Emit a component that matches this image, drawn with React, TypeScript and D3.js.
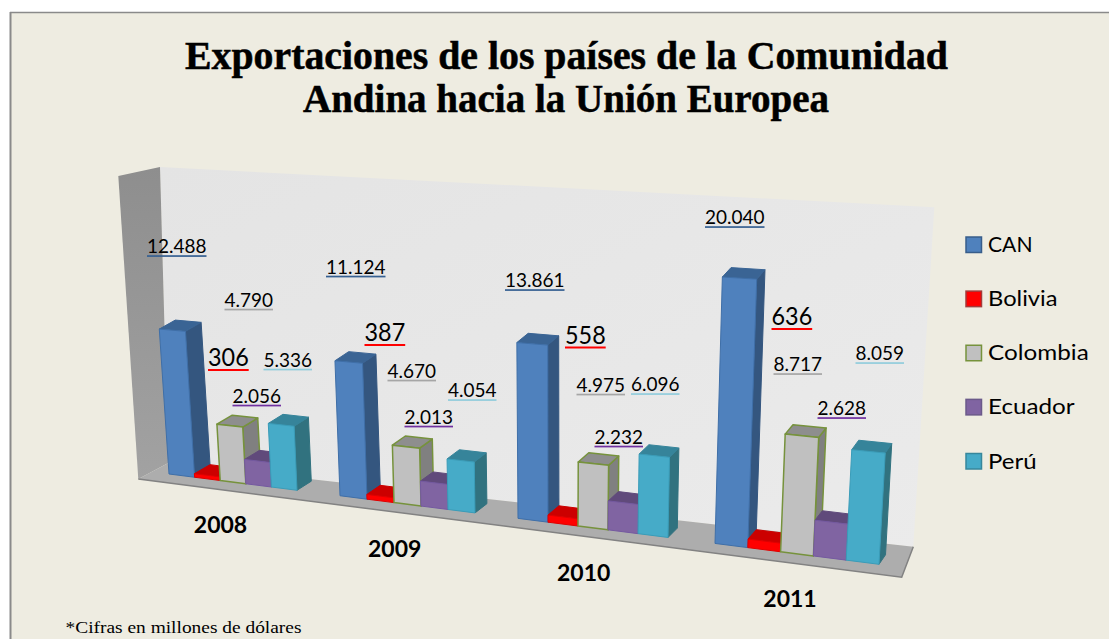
import React from "react";
import * as d3 from "d3";

const years = ["2008", "2009", "2010", "2011"];
const seriesNames = ["CAN", "Bolivia", "Colombia", "Ecuador", "Perú"];
const can = [12488, 11124, 13861, 20040];
const bolivia = [306, 387, 558, 636];
const colombia = [4790, 4670, 4975, 8717];
const ecuador = [2056, 2013, 2232, 2628];
const peru = [5336, 4054, 6096, 8059];
const seriesValues = [can, bolivia, colombia, ecuador, peru];

const titleLines = ["Exportaciones de los países de la Comunidad", "Andina hacia la Unión Europea"];
const footnote = "*Cifras en millones de dólares";

// presentation only
const faces = [
  { front: "#4f81bd", side: "#34567f", top: "#3a6494", stroke: "#3f6fa8", under: "#366092", legendStroke: "#385d8a" },
  { front: "#ff0000", side: "#b00000", top: "#cc0000", stroke: "#e00000", under: "#ff0000", legendStroke: "#a33a3a" },
  { front: "#c0c0c0", side: "#808080", top: "#8e8e8e", stroke: "#76923c", under: "#a6a6a6", legendStroke: "#76923c" },
  { front: "#8064a2", side: "#5f4a7a", top: "#604a7b", stroke: "#7459a0", under: "#7030a0", legendStroke: "#6b5a8a" },
  { front: "#46abc8", side: "#31727f", top: "#36849a", stroke: "#3a9cb8", under: "#92cddc", legendStroke: "#37879c" },
];
// left edge and baseline of every value label, by series then year
const labelX = [
  [147, 326, 505, 705],
  [208, 364.5, 565, 771.5],
  [224.5, 387.5, 576.5, 773.5],
  [232.5, 404.5, 594.5, 817.5],
  [263.5, 448, 631, 855.5],
];
const labelY = [
  [253, 273.5, 287, 224],
  [366, 341, 343.5, 325],
  [306.5, 377.5, 391.5, 371],
  [402.5, 423.5, 443.5, 415],
  [366.5, 397, 391, 360],
];
const yearX = [220.5, 394.7, 583.7, 790];
const yearY = [533, 556.7, 580.7, 607];
const legendTextWidth = [44.5, 69.5, 100.7, 86.7, 48.5];

const fmt = d3.formatLocale({ decimal: ",", thousands: ".", grouping: [3], currency: ["", ""] }).format(",d");

// oblique projection built from scales
const slotDomain = [0.75, 5.75, 7.25, 12.25, 13.75, 18.75, 20.25, 25.25];
const xAlong = d3.scaleLinear().domain(slotDomain).range([169, 297, 340, 475, 518, 668, 715, 879]);
const X_DOM: [number, number] = [169, 879];
const baseY = d3.scaleLinear().domain(X_DOM).range([474, 564.3]);
const heightScale = d3.scaleLinear().domain([0, 20040]).range([0, 267]);
const perspective = d3.scaleLinear().domain(X_DOM).range([0.871, 1.036]);
const lean = d3.scaleLinear().domain(X_DOM).range([-0.067, 0.056]);
const depthX = d3.scaleLinear().domain(X_DOM).range([16, 6.5]);
const depthY = d3.scaleLinear().domain(X_DOM).range([-9, -9.5]);

type P = [number, number];
function project(slot: number, value: number, depth: number): P {
  const x0 = xAlong(slot);
  const h = heightScale(value) * perspective(x0);
  return [x0 + lean(x0) * h + depthX(x0) * depth, baseY(x0) - h + depthY(x0) * depth];
}
const poly = (pts: P[]) => (d3.line()(pts) as string) + "Z";

const wall: P[] = [[160, 167], [934.3, 207.3], [913.3, 546.7], [168.3, 463]];
const sideWall: P[] = [[118.3, 176], [160, 167], [168.3, 463], [138.3, 479]];
const floor: P[] = [[138.3, 479], [168.3, 463], [913.3, 546.7], [901.7, 577.3]];

function Bar({ g, b }: { g: number; b: number }) {
  const v = seriesValues[b][g];
  const s = slotDomain[0] + 6.5 * g + b;
  const f = faces[b];
  const a = project(s, 0, 0), c = project(s + 1, 0, 0), e = project(s + 1, 0, 1);
  const ta = project(s, v, 0), tc = project(s + 1, v, 0), te = project(s + 1, v, 1), tb = project(s, v, 1);
  return (
    <g strokeLinejoin="round">
      <path d={poly([c, e, te, tc])} fill={f.side} stroke={b === 2 ? f.stroke : f.side} strokeWidth={b === 2 ? 1.5 : 1} />
      <path d={poly([ta, tc, te, tb])} fill={f.top} stroke={b === 2 ? f.stroke : f.top} strokeWidth={b === 2 ? 1.5 : 1} />
      <path d={poly([a, c, tc, ta])} fill={f.front} stroke={f.stroke} strokeWidth={b === 2 ? 1.5 : 1} />
    </g>
  );
}

export default function App() {
  return (
    <svg width={1109} height={639} style={{ position: "absolute", left: 0, top: 0, display: "block" }}>
      <defs>
        <linearGradient id="wallFill" x1="0" y1="0" x2="1" y2="1">
          <stop offset="0" stopColor="#e4e4e4" />
          <stop offset="1" stopColor="#ebebeb" />
        </linearGradient>
        <linearGradient id="sideFill" x1="0" y1="0" x2="0" y2="1">
          <stop offset="0" stopColor="#8e8e8e" />
          <stop offset="1" stopColor="#a2a2a2" />
        </linearGradient>
      </defs>
      <rect x={0} y={0} width={1109} height={639} fill="#ffffff" />
      <rect x={10} y={12.5} width={1099} height={626.5} fill="#eeece1" />
      <line x1={10.5} y1={12} x2={10.5} y2={639} stroke="#8a8a8a" strokeWidth={2} />
      <line x1={10} y1={12.5} x2={1109} y2={12.5} stroke="#8a8a8a" strokeWidth={1.5} />

      <g fontFamily="'Liberation Serif', serif" fontWeight="bold" fontSize={39} fill="#000" stroke="#000" strokeWidth={0.5}>
        <text x={185} y={68.5} textLength={763} lengthAdjust="spacingAndGlyphs">{titleLines[0]}</text>
        <text x={303} y={111.7} textLength={526} lengthAdjust="spacingAndGlyphs">{titleLines[1]}</text>
      </g>

      <path d={poly(wall)} fill="url(#wallFill)" />
      <path d={poly(sideWall)} fill="url(#sideFill)" />
      <path d={poly(floor)} fill="#adadad" />
      <path d={d3.line()([floor[0], floor[3], floor[2]]) as string} fill="none" stroke="#828282" strokeWidth={1.5} />

      {years.map((_, g) => (
        <g key={g}>{seriesNames.map((_, b) => <Bar key={b} g={g} b={b} />)}</g>
      ))}

      <g fontFamily="Lato, sans-serif" fill="#000">
        {seriesNames.map((_, b) =>
          years.map((_, g) => {
            const big = b === 1;
            const w = big ? 40.7 : b === 0 ? 59.5 : 48.5;
            return (
              <g key={`${b}-${g}`}>
                <text x={labelX[b][g]} y={labelY[b][g]} fontSize={big ? 24.5 : 18.5} textLength={w} lengthAdjust="spacingAndGlyphs">
                  {fmt(seriesValues[b][g])}
                </text>
                <rect x={labelX[b][g]} y={labelY[b][g] + (big ? 3 : 2.2)} width={w} height={big ? 2 : 1.7} fill={faces[b].under} />
              </g>
            );
          })
        )}
      </g>

      <g fontFamily="Lato, sans-serif" fontWeight="bold" fontSize={23} fill="#000" textAnchor="middle">
        {years.map((y, g) => (
          <text key={y} x={yearX[g]} y={yearY[g]}>{y}</text>
        ))}
      </g>

      <g fontFamily="Lato, sans-serif" fontSize={21.5} fill="#000">
        {seriesNames.map((n, b) => {
          const ly = d3.scaleLinear().domain([0, 4]).range([237, 453.5])(b);
          return (
            <g key={n}>
              <rect x={966} y={ly} width={15.5} height={15.5} fill={faces[b].front} stroke={faces[b].legendStroke} strokeWidth={1.5} />
              <text x={988} y={ly + 15} textLength={legendTextWidth[b]} lengthAdjust="spacingAndGlyphs">{n}</text>
            </g>
          );
        })}
      </g>

      <text x={65.5} y={632.7} fontFamily="'Liberation Serif', serif" fontSize={16.5} fill="#000" textLength={236} lengthAdjust="spacingAndGlyphs">
        {footnote}
      </text>
    </svg>
  );
}
